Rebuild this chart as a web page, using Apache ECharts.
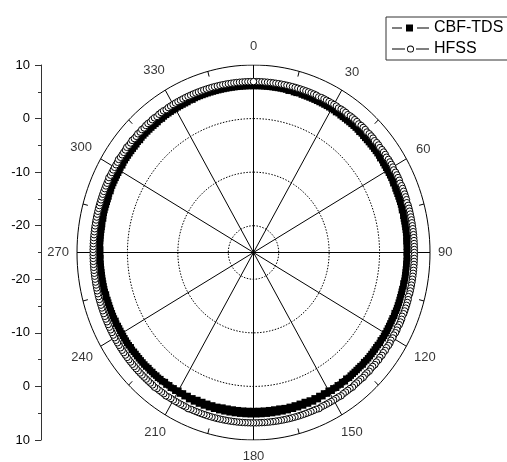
<!DOCTYPE html>
<html><head><meta charset="utf-8">
<script src="https://cdn.jsdelivr.net/npm/echarts@6/dist/echarts.min.js"></script>
<style>html,body{margin:0;padding:0;background:#fff}#c{width:507px;height:462px}</style>
</head><body><div id="c"></div>
<script>
// ---- data (gain in dB, one sample per degree, 0..359) ----
const cbfTds = [
6.1,6.1,6.1,6.1,6.1,6.1,6.1,6.1,6.1,6.1,
6.1,6.1,6.1,6.0,6.1,6.0,6.0,6.1,6.0,6.0,
6.0,6.0,6.0,6.0,6.0,6.0,6.0,6.0,6.0,6.0,
6.0,6.0,5.9,6.0,5.9,5.9,5.9,5.9,5.9,5.9,
5.9,5.9,5.9,5.8,5.9,5.8,5.8,5.8,5.8,5.8,
5.8,5.8,5.8,5.8,5.8,5.7,5.8,5.7,5.7,5.7,
5.7,5.7,5.7,5.7,5.7,5.6,5.7,5.6,5.6,5.6,
5.6,5.6,5.6,5.6,5.6,5.5,5.6,5.5,5.5,5.5,
5.5,5.5,5.5,5.5,5.5,5.5,5.4,5.5,5.4,5.5,
5.4,5.4,5.5,5.4,5.4,5.4,5.4,5.4,5.4,5.4,
5.4,5.3,5.4,5.3,5.3,5.3,5.3,5.3,5.3,5.3,
5.3,5.3,5.2,5.3,5.2,5.2,5.2,5.2,5.2,5.2,
5.2,5.2,5.2,5.1,5.2,5.1,5.1,5.1,5.1,5.1,
5.1,5.1,5.1,5.0,5.1,5.0,5.0,5.0,5.0,5.0,
5.0,5.1,4.9,5.1,4.9,5.1,4.9,5.1,4.9,5.1,
4.8,5.1,4.8,5.1,4.8,5.2,4.8,5.2,4.8,5.2,
4.7,5.2,4.7,5.2,4.7,5.2,4.7,5.2,4.7,5.2,
4.6,5.2,4.6,5.2,4.6,5.2,4.6,5.2,4.6,5.2,
4.6,5.2,4.6,5.2,4.6,5.2,4.6,5.2,4.6,5.2,
4.6,5.2,4.6,5.2,4.7,5.2,4.7,5.2,4.7,5.2,
4.7,5.2,4.7,5.2,4.8,5.2,4.8,5.1,4.8,5.1,
4.8,5.1,4.9,5.1,4.9,5.1,4.9,5.1,5.0,5.1,
5.0,5.1,5.0,5.1,5.0,5.1,5.1,5.1,5.1,5.1,
5.1,5.1,5.1,5.2,5.1,5.2,5.2,5.2,5.2,5.2,
5.2,5.2,5.2,5.2,5.3,5.2,5.3,5.3,5.3,5.3,
5.3,5.3,5.3,5.3,5.4,5.3,5.4,5.4,5.4,5.4,
5.4,5.4,5.4,5.4,5.4,5.4,5.4,5.5,5.4,5.4,
5.5,5.4,5.5,5.5,5.5,5.5,5.5,5.5,5.5,5.5,
5.5,5.6,5.5,5.6,5.6,5.6,5.6,5.6,5.6,5.6,
5.6,5.7,5.6,5.7,5.7,5.7,5.7,5.7,5.7,5.7,
5.7,5.8,5.7,5.8,5.8,5.8,5.8,5.8,5.8,5.8,
5.8,5.8,5.9,5.8,5.9,5.9,5.9,5.9,5.9,5.9,
5.9,5.9,5.9,6.0,5.9,6.0,6.0,6.0,6.0,6.0,
6.0,6.0,6.0,6.0,6.0,6.0,6.1,6.0,6.1,6.1,
6.1,6.1,6.1,6.1,6.1,6.1,6.1,6.1,6.1,6.1,
6.1,6.1,6.1,6.1,6.1,6.1,6.1,6.1,6.1,6.1
];
const hfss = [
6.9,6.9,6.9,6.9,6.9,6.9,6.9,6.9,6.9,6.9,
6.9,6.9,6.9,6.9,6.9,6.9,6.9,6.9,6.9,6.9,
6.9,6.9,6.9,6.9,6.8,6.9,6.9,6.9,6.9,6.9,
6.9,6.9,6.8,6.9,6.9,6.9,6.8,6.9,6.9,6.9,
6.9,6.8,6.9,6.9,6.9,6.8,6.9,6.9,6.9,6.8,
6.9,6.9,6.8,6.9,6.9,6.9,6.8,6.9,6.9,6.9,
6.9,6.8,6.9,6.9,6.9,6.9,6.8,6.9,6.9,6.9,
6.9,6.9,6.9,6.8,6.9,6.9,6.9,6.9,6.9,6.9,
6.9,6.9,6.9,6.9,6.9,6.9,6.9,6.9,6.9,6.9,
6.9,6.9,6.9,6.9,6.9,6.9,6.9,6.9,6.9,6.9,
6.9,6.9,6.9,6.9,6.9,6.8,6.9,6.9,6.9,6.9,
6.9,6.9,6.8,6.9,6.9,6.9,6.8,6.9,6.9,6.8,
6.9,6.8,6.9,6.9,6.8,6.9,6.8,6.9,6.8,6.9,
6.8,6.9,6.8,6.8,6.9,6.8,6.8,6.9,6.8,6.8,
6.8,6.8,6.9,6.8,6.8,6.8,6.8,6.9,6.8,6.8,
6.8,6.8,6.8,6.8,6.8,6.8,6.9,6.8,6.8,6.8,
6.8,6.8,6.8,6.8,6.8,6.8,6.8,6.8,6.8,6.8,
6.8,6.8,6.8,6.8,6.8,6.8,6.8,6.8,6.8,6.8,
6.8,6.8,6.8,6.8,6.8,6.8,6.8,6.8,6.8,6.8,
6.8,6.8,6.8,6.8,6.8,6.8,6.8,6.8,6.8,6.8,
6.8,6.8,6.8,6.8,6.9,6.8,6.8,6.8,6.8,6.8,
6.8,6.8,6.8,6.9,6.8,6.8,6.8,6.8,6.9,6.8,
6.8,6.8,6.8,6.8,6.8,6.8,6.8,6.8,6.8,6.8,
6.8,6.8,6.8,6.8,6.8,6.8,6.8,6.8,6.8,6.8,
6.8,6.8,6.8,6.8,6.8,6.8,6.8,6.8,6.8,6.8,
6.8,6.8,6.8,6.8,6.8,6.8,6.8,6.8,6.8,6.8,
6.8,6.8,6.8,6.8,6.8,6.8,6.8,6.8,6.8,6.8,
6.8,6.8,6.8,6.8,6.8,6.8,6.8,6.8,6.8,6.8,
6.8,6.8,6.8,6.8,6.8,6.8,6.8,6.8,6.8,6.8,
6.8,6.8,6.8,6.8,6.8,6.8,6.9,6.8,6.8,6.8,
6.8,6.8,6.8,6.9,6.8,6.8,6.8,6.8,6.9,6.8,
6.8,6.9,6.8,6.8,6.9,6.8,6.9,6.8,6.9,6.9,
6.8,6.9,6.9,6.8,6.9,6.9,6.9,6.8,6.9,6.9,
6.9,6.9,6.9,6.9,6.9,6.9,6.9,6.9,6.9,6.9,
6.9,6.9,6.9,6.9,6.9,6.9,6.9,6.9,6.9,6.9,
6.9,6.9,6.9,6.9,6.9,6.9,6.9,6.9,6.9,6.9
];
const seriesNames = ['CBF-TDS', 'HFSS'];
const angleStepDeg = 1;                 // spacing of the samples above
const angleTickLabels = ['0','30','60','90','120','150','180','210','240','270','300','330'];
const angleTickStepDeg = 30;
const radialMin = -25, radialMax = 10;  // centre / outer ring (dB)
const radialGridValues = [-20, -10, 0]; // dotted rings
const leftAxisLabels = ['10','0','-10','-20','-20','-10','0','10'];

// ---- layout ----
const GRID = {left: 77, top: 65, width: 353, height: 375};
const span = radialMax - radialMin;
const pxX = GRID.width / (2 * span), pxY = GRID.height / (2 * span);
const FONT = 'Liberation Sans, Arial, sans-serif';

// legend icons: dash - marker - dash
const ICON_SQUARE = 'path://M0 3H10V4H0ZM14 0H21V7H14ZM25 3H37V4H25Z';
const ICON_CIRCLE = 'path://M0 3H13V4H0ZM22 3.5A3.5 3.5 0 1 0 15 3.5A3.5 3.5 0 1 0 22 3.5ZM21.1 3.5A2.6 2.6 0 1 1 15.9 3.5A2.6 2.6 0 1 1 21.1 3.5ZM24 3H37V4H24Z';

function toXY(angDeg, val) {
  const r = val - radialMin, t = angDeg * Math.PI / 180;
  return [r * Math.sin(t), r * Math.cos(t)];
}
function ringPts(val) {
  const pts = [];
  for (let a = 0; a <= 360; a += 2) pts.push(toXY(a, val));
  return pts;
}
function seriesPts(vals) {
  const pts = vals.map((v, i) => toXY(i * angleStepDeg, v));
  pts.push(pts[0]);
  return pts;
}

const ringSeries = radialGridValues.map(v => ({
  type: 'line', xAxisIndex: 1, yAxisIndex: 1, data: ringPts(v), symbol: 'none', silent: true, z: 1,
  lineStyle: {color: '#000', width: 1, type: [1.5, 1.5]}
}));
ringSeries.push({
  type: 'line', xAxisIndex: 1, yAxisIndex: 1, data: ringPts(radialMax), symbol: 'none', silent: true, z: 1,
  lineStyle: {color: '#000', width: 1}
});

const spokes = [], minorTicks = [];
for (let i = 0; i < angleTickLabels.length; i++) {
  const a = i * angleTickStepDeg;
  spokes.push({coords: [toXY(0, radialMin), toXY(a, radialMax)]});
  const m = a + angleTickStepDeg / 2;
  minorTicks.push({coords: [toXY(m, radialMax), toXY(m, radialMax - 1)]});
}

const labelPts = angleTickLabels.map((txt, i) => {
  const a = i * angleTickStepDeg * Math.PI / 180;
  const s = Math.sin(a), c = Math.cos(a);
  const hw = txt.length * 0.556 * 13 / 2, hh = 6.5;
  const g = 8 + Math.max(c, 0) * 4 + Math.max(-c, 0) * 1.5;
  const k = g + Math.abs(s) * hw + Math.abs(c) * hh;
  const p = toXY(i * angleTickStepDeg, radialMax);
  return {name: txt, value: [p[0] + k * s / pxX, p[1] + k * c / pxY]};
});

const chart = echarts.init(document.getElementById('c'), null, {renderer: 'canvas'});
chart.setOption({
  animation: false,
  backgroundColor: '#fff',
  textStyle: {fontFamily: FONT},
  grid: [
    {left: 41, top: GRID.top, width: 1, height: GRID.height},
    {left: GRID.left, top: GRID.top, width: GRID.width, height: GRID.height}
  ],
  xAxis: [
    {gridIndex: 0, type: 'value', show: false},
    {gridIndex: 1, type: 'value', min: -span, max: span, show: false}
  ],
  yAxis: [
    {gridIndex: 0, type: 'value', min: 0, max: 2 * span, interval: 10, position: 'left',
     axisLine: {show: true, lineStyle: {color: '#333', width: 1}},
     axisTick: {show: true, length: 6, lineStyle: {color: '#333'}},
     minorTick: {show: true, splitNumber: 2, length: 3, lineStyle: {color: '#333'}},
     splitLine: {show: false}, minorSplitLine: {show: false},
     axisLabel: {margin: 11, fontSize: 13, color: '#000', fontFamily: FONT,
                 formatter: v => leftAxisLabels[Math.round(v / 10)]}},
    {gridIndex: 1, type: 'value', min: -span, max: span, show: false}
  ],
  legend: {
    orient: 'vertical', left: 386, top: 17,
    data: [
      {name: seriesNames[0], icon: ICON_SQUARE, itemStyle: {color: '#000', borderWidth: 0}},
      {name: seriesNames[1], icon: ICON_CIRCLE, itemStyle: {color: '#000', borderWidth: 0}}
    ],
    borderColor: '#333', borderWidth: 1, borderRadius: 0,
    padding: [3, 12, 3, 6], itemGap: 5, itemWidth: 37, itemHeight: 7,
    textStyle: {fontSize: 16, color: '#000', fontFamily: FONT, padding: [0, 0, 0, 0]}
  },
  series: [
    ...ringSeries,
    {type: 'lines', coordinateSystem: 'cartesian2d', xAxisIndex: 1, yAxisIndex: 1, silent: true, z: 1,
     data: spokes, lineStyle: {color: '#000', width: 1, opacity: 1}},
    {type: 'lines', coordinateSystem: 'cartesian2d', xAxisIndex: 1, yAxisIndex: 1, silent: true, z: 1,
     data: minorTicks, lineStyle: {color: '#000', width: 1, opacity: 1}},
    {type: 'scatter', xAxisIndex: 1, yAxisIndex: 1, data: labelPts, symbolSize: 1, silent: true, clip: false,
     itemStyle: {color: 'rgba(0,0,0,0)'},
     label: {show: true, position: 'inside', formatter: '{b}', fontSize: 13, color: '#000',
             fontFamily: FONT, align: 'center', verticalAlign: 'middle'}},
    {name: seriesNames[0], type: 'line', xAxisIndex: 1, yAxisIndex: 1, data: seriesPts(cbfTds), z: 3,
     symbol: 'rect', symbolSize: 6.5, showSymbol: true, showAllSymbol: true,
     itemStyle: {color: '#000'}, lineStyle: {color: '#000', width: 1.5}},
    {name: seriesNames[1], type: 'line', xAxisIndex: 1, yAxisIndex: 1, data: seriesPts(hfss), z: 4,
     symbol: 'circle', symbolSize: 6.5, showSymbol: true, showAllSymbol: true,
     itemStyle: {color: '#fff', borderColor: '#000', borderWidth: 1}, lineStyle: {color: '#000', width: 1}}
  ]
});
</script></body></html>
